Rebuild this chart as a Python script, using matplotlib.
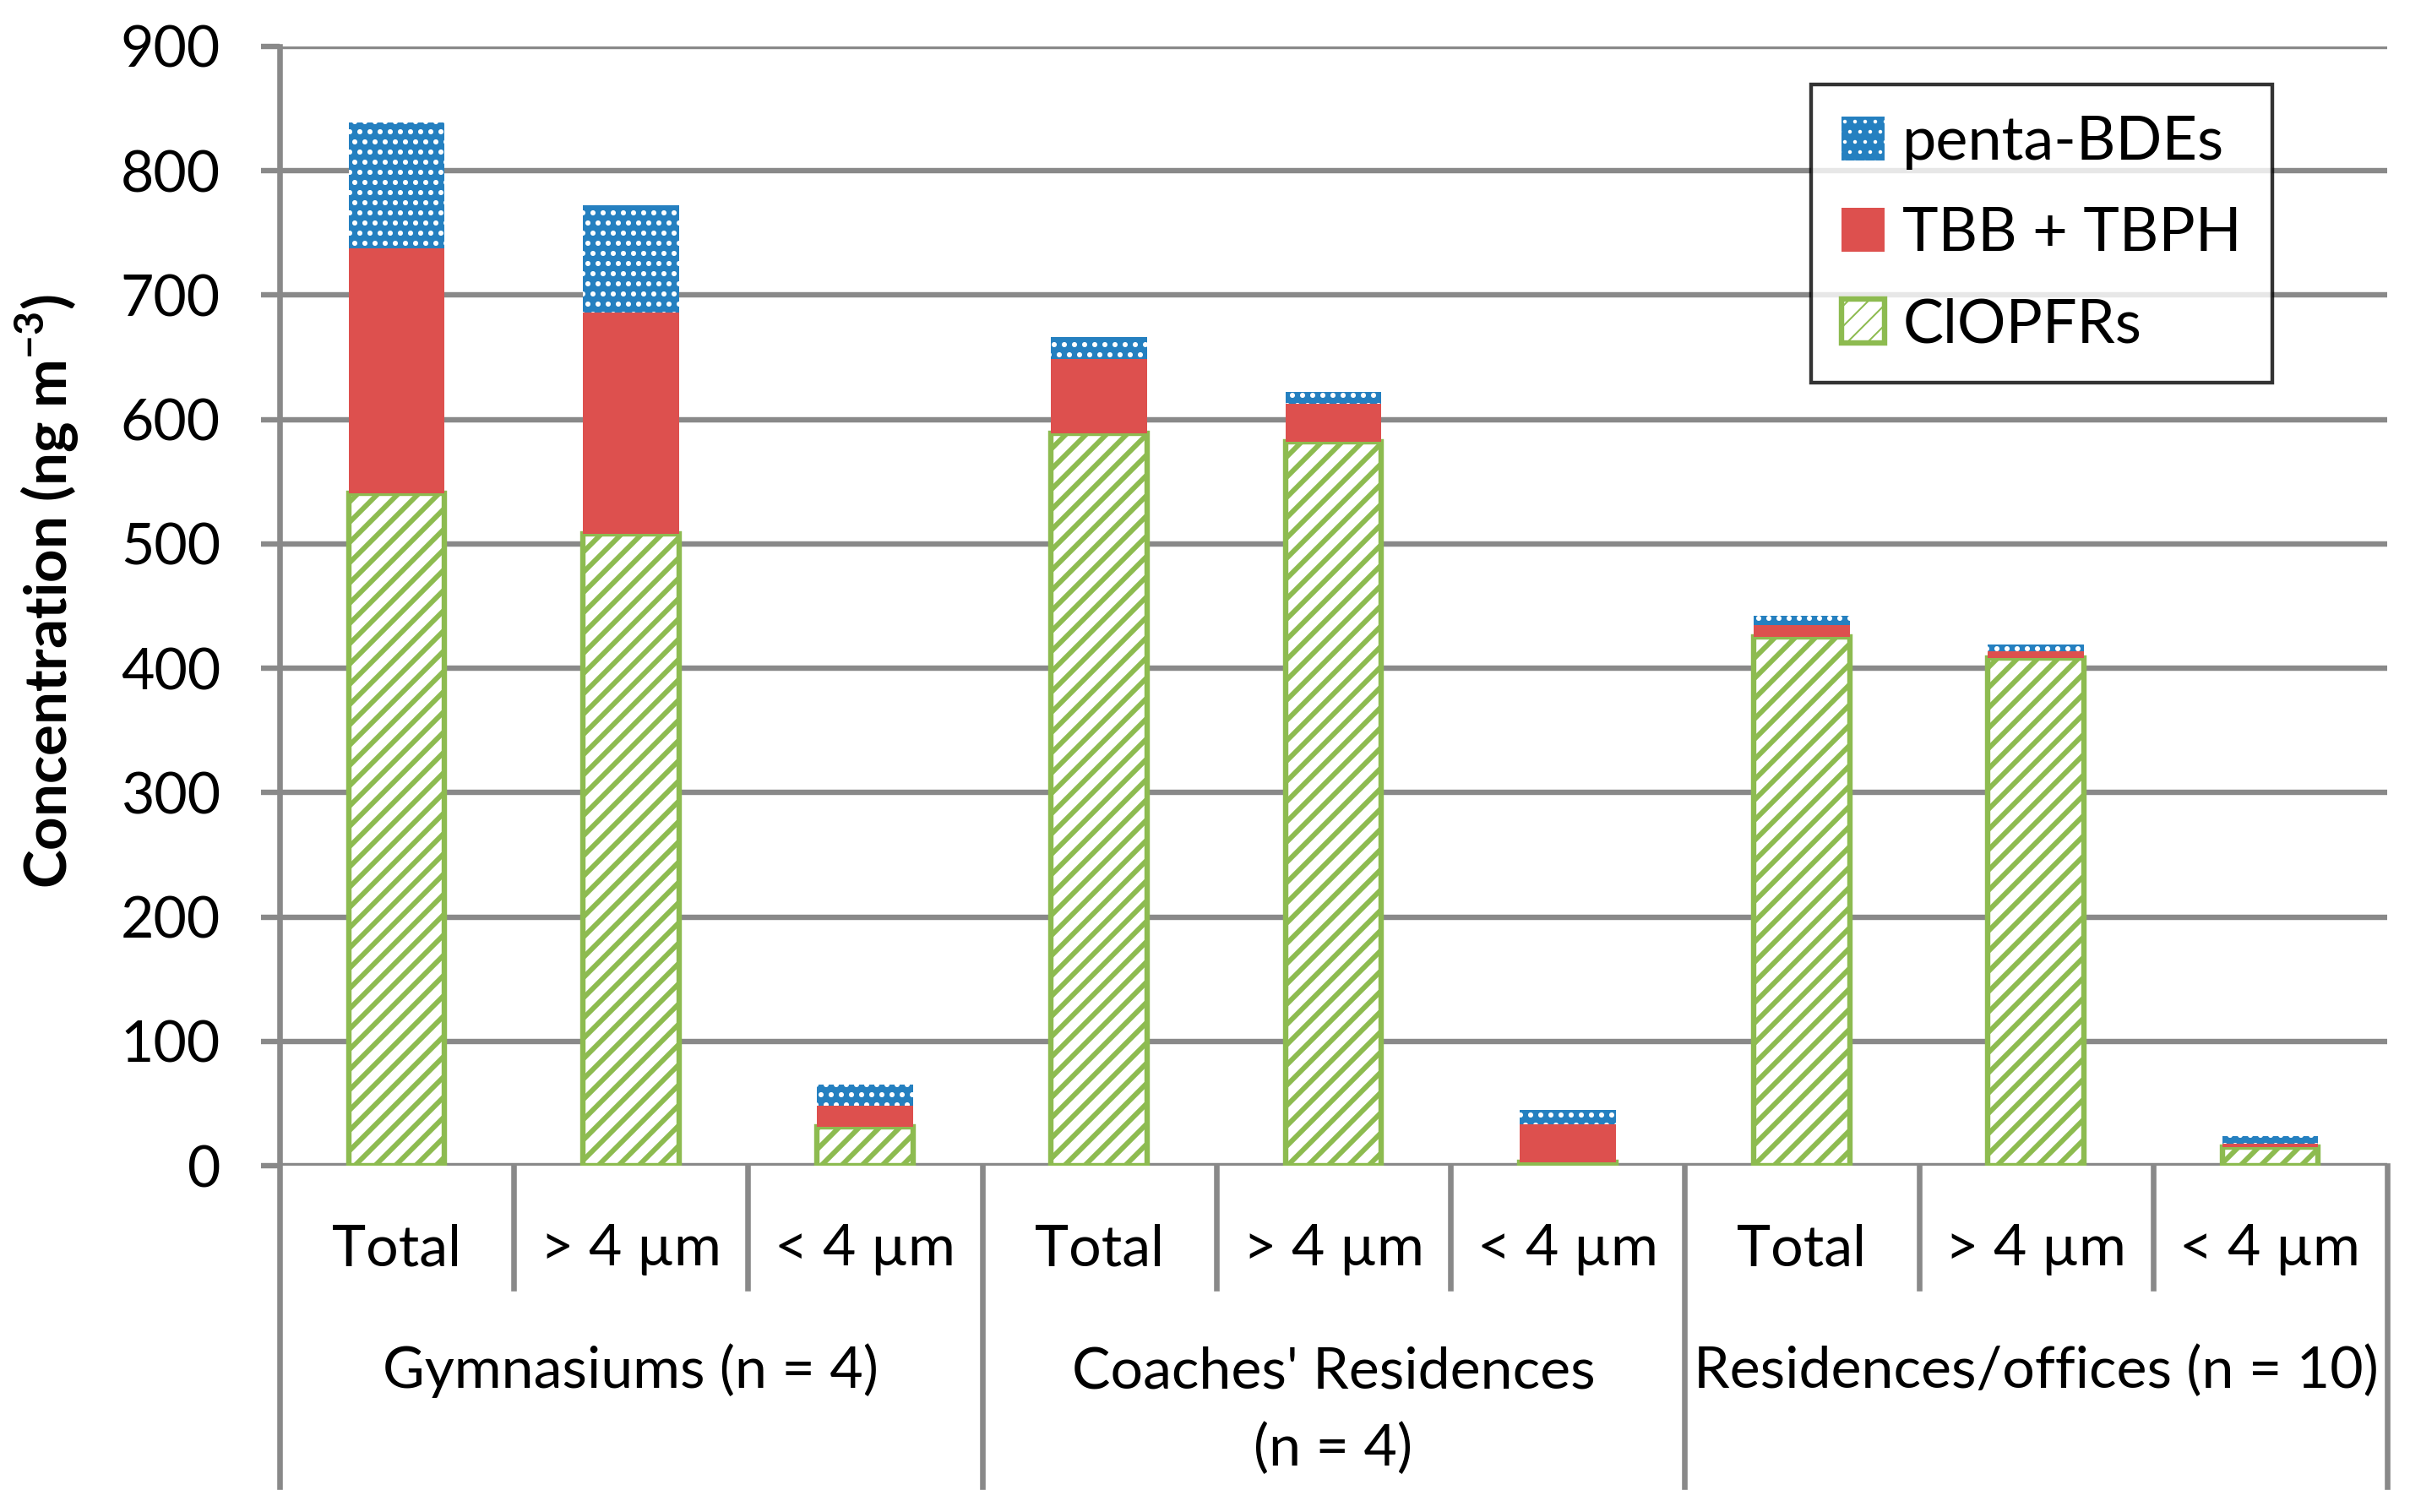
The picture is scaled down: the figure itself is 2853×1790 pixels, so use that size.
import matplotlib
matplotlib.use("Agg")
import matplotlib.pyplot as plt
import matplotlib.transforms as mtransforms
import numpy as np

# data (ng m-3)
groups = ["Gymnasiums (n = 4)", "Coaches' Residences\n(n = 4)", "Residences/offices (n = 10)"]
fractions = ["Total", "> 4 µm", "< 4 µm"]
clopfrs = [541, 508, 31, 589, 582, 3, 425, 408, 15]
tbb_tbph = [197, 178, 17, 60, 31, 30, 10, 6, 3]
penta_bdes = [101, 86, 17, 17, 9, 12, 7, 5, 6]
yticks = [0, 100, 200, 300, 400, 500, 600, 700, 800, 900]

# colours
GREEN = "#8DBB50"
RED = "#DD504E"
BLUE = "#2580C0"
GRAY = "#898989"

plt.rcParams["font.family"] = ["Lato", "DejaVu Sans"]
plt.rcParams["mathtext.fontset"] = "custom"
plt.rcParams["mathtext.rm"] = "Lato"
plt.rcParams["mathtext.bf"] = "Lato:bold"

DPI = 144
fig = plt.figure(figsize=(2853 / DPI, 1790 / DPI), dpi=DPI)
W, H = 2853, 1790
left, right, top, bottom = 331, 2826, 55, 1380
ax = fig.add_axes([left / W, 1 - bottom / H, (right - left) / W, (bottom - top) / H])

x = np.arange(len(clopfrs))
bw = 0.41
c = np.array(clopfrs)
r = np.array(tbb_tbph)
b = np.array(penta_bdes)

with plt.rc_context({"hatch.linewidth": 3.0}):
    ax.bar(x, c, bw, facecolor="white", edgecolor=GREEN, hatch="//", linewidth=3.2, zorder=3, label="ClOPFRs")
ax.bar(x, r, bw, bottom=c, color=RED, linewidth=0, zorder=4, label="TBB + TBPH")
with plt.rc_context({"hatch.linewidth": 1.8}):
    ax.bar(x, b, bw, bottom=c + r, facecolor=BLUE, edgecolor="white", hatch="..", linewidth=0, zorder=4, label="penta-BDEs")

ax.set_xlim(-0.5, len(x) - 0.5)
ax.set_ylim(0, 900)
ax.set_yticks(yticks)
ax.yaxis.grid(True, color=GRAY, linewidth=3.2)
ax.set_axisbelow(True)
for s in ax.spines.values():
    s.set_visible(False)
ax.tick_params(axis="y", length=11, width=3.2, color=GRAY, pad=24, labelsize=34)
ax.tick_params(axis="x", bottom=False, labelbottom=False)

# category axis drawn by hand
trans = mtransforms.blended_transform_factory(ax.transData, ax.transAxes)
ax.plot([-0.5, -0.5], [1, -0.2868], transform=trans, color=GRAY, lw=3.3, clip_on=False, zorder=5)
for gx in [2.5, 5.5, 8.5]:
    ax.plot([gx, gx], [0, -0.2868], transform=trans, color=GRAY, lw=3.3, clip_on=False)
for sx in [0.5, 1.5, 3.5, 4.5, 6.5, 7.5]:
    ax.plot([sx, sx], [0, -0.1094], transform=trans, color=GRAY, lw=3.3, clip_on=False)

for i in x:
    ax.text(i, -0.0891, fractions[i % 3], transform=trans, ha="center", va="baseline", fontsize=34)
for g, name in enumerate(groups):
    lines = name.split("\n")
    for k, ln in enumerate(lines):
        ax.text(3 * g + 1, [-0.1985, -0.2679][k], ln, transform=trans, ha="center", va="baseline", fontsize=34)

ax.set_ylabel(r"Concentration (ng m$^{\mathbf{-3}}$)", fontsize=34.5, fontweight="bold")
ax.yaxis.set_label_coords(-(left - 96) / (right - left), (bottom - 700) / (bottom - top))

handles, labels = ax.get_legend_handles_labels()
leg = ax.legend(handles[::-1], labels[::-1], loc="upper right", bbox_to_anchor=(0.9455, 0.966),
                borderaxespad=0, fontsize=36, frameon=True, fancybox=False,
                handlelength=0.7, handleheight=0.74, handletextpad=0.3, labelspacing=0.6,
                borderpad=0.5)
leg.get_frame().set_edgecolor("black")
leg.get_frame().set_linewidth(2.2)
leg.set_zorder(10)

fig.savefig("out.png", dpi=DPI)
